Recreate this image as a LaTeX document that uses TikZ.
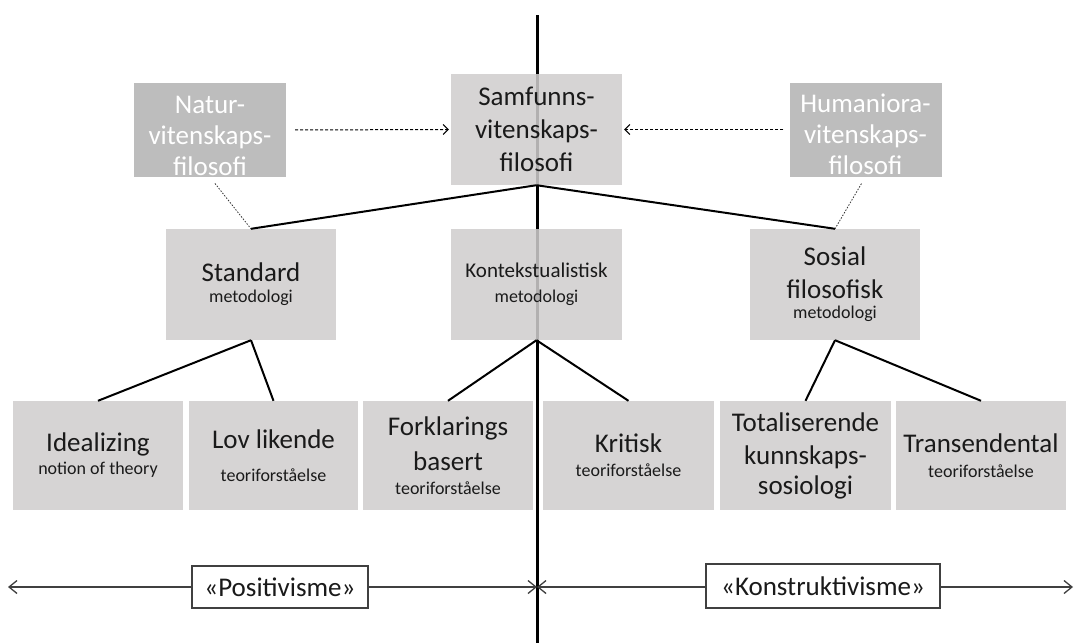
\documentclass[tikz,border=0pt]{standalone}
\usepackage{fontspec}
\setmainfont{Carlito}
\usetikzlibrary{arrows.meta,backgrounds}

\definecolor{boxgray}{HTML}{D0CECE}
\definecolor{softgray}{HTML}{BDBDBD}
\definecolor{ink}{HTML}{1A1A1A}
\definecolor{rim}{HTML}{404040}

% text sizes
\newcommand\szL{\fontsize{27}{33}\selectfont}
\newcommand\szK{\fontsize{21}{25}\selectfont}
\newcommand\szS{\fontsize{18}{21}\selectfont}
% extra head room on the first line of the soft boxes
\newcommand\headroom{\rule{0pt}{29pt}}

\tikzset{
  greybox/.style 2 args={fill=boxgray, fill opacity=0.86, text opacity=1,
    draw=none, text=ink, align=center, inner sep=0pt, font=\szL,
    minimum width=#1, minimum height=#2},
  softbox/.style={fill=softgray, draw=none, text=white, align=center,
    inner sep=0pt, font=\szL, minimum width=152, minimum height=94},
  labelbox/.style={fill=white, draw=rim, line width=1.2pt, text=ink,
    inner sep=0pt, minimum height=42, font=\szL},
  link/.style={draw=black, line width=2pt},
  hint/.style={draw=black!80, line width=0.8pt, dash pattern=on 1.5pt off 1.5pt},
  feed/.style={draw=black, line width=1pt, dash pattern=on 3pt off 2pt,
    -{Straight Barb[length=5pt,width=10pt]}},
  span/.style={draw=rim, line width=1.3pt,
    {Straight Barb[length=8pt,width=13pt]}-{Straight Barb[length=8pt,width=13pt]}},
}

\begin{document}
\begin{tikzpicture}[x=1pt,y=-1pt]
  \useasboundingbox (0,0) rectangle (1075,643);
  \fill[white] (0,0) rectangle (1075,643);

  % dividing axis
  \coordinate (vtop) at (537,15);
  \coordinate (vbot) at (537,643);
  \draw[line width=3pt] (vtop) -- (vbot);

  % top row
  \node[greybox={171}{111}] (samf) at (536.5,129.5) {Samfunns-\\vitenskaps-\\filosofi};
  \node[softbox] (natur) at (210,130) {\headroom Natur-\\[-2pt]vitenskaps-\\[-2pt]filosofi};
  \node[softbox] (huma) at (865.5,129.5) {\headroom Humaniora-\\[-2pt]vitenskaps-\\[-2pt]filosofi};
  \begin{scope}[on background layer]
    \foreach \d/\o in {1/0.45,2/0.3,3/0.18,4/0.1,5/0.05}{
      \fill[softgray, opacity=\o] ([shift={(-\d,-\d)}]natur.north west) rectangle ([shift={(\d,\d)}]natur.south east);
      \fill[softgray, opacity=\o] ([shift={(-\d,-\d)}]huma.north west) rectangle ([shift={(\d,\d)}]huma.south east);
    }
  \end{scope}

  % middle row
  \node[greybox={170}{111}] (std) at (251,284.5) {Standard\\[-12pt]{\szS metodologi}};
  \node[greybox={171}{111}, font=\szK] (kon) at (536.5,284.5) {Kontekstualistisk\\{\szS metodologi}};
  \node[greybox={170}{111}] (sos) at (835,284.5) {Sosial\\filosofisk\\[-13pt]{\szS metodologi}};

  % bottom row
  \node[greybox={170}{109}] (b1) at (98,455.5) {Idealizing\\[-10pt]{\szS notion of theory}};
  \node[greybox={169}{109}] (b2) at (273.5,455.5) {Lov likende\\{\szS teoriforståelse}};
  \node[greybox={170}{109}] (b3) at (448,455.5) {Forklarings\\[2pt]basert\\[-9pt]{\szS teoriforståelse}};
  \node[greybox={171}{109}] (b4) at (628.5,455.5) {Kritisk\\[-9pt]{\szS teoriforståelse}};
  \node[greybox={171}{109}] (b5) at (805.5,455.5) {Totaliserende\\kunnskaps-\\[-3pt]sosiologi};
  \node[greybox={170}{109}] (b6) at (981,455.5) {Transendental\\[-8pt]{\szS teoriforståelse}};

  % tree links
  \draw[link] (samf.south) -- (std.north);
  \draw[link] (samf.south) -- (sos.north);
  \draw[link] (std.south) -- (b1.north);
  \draw[link] (std.south) -- (b2.north);
  \draw[link] (kon.south) -- (b3.north);
  \draw[link] (kon.south) -- (b4.north);
  \draw[link] (sos.south) -- (b5.north);
  \draw[link] (sos.south) -- (b6.north);

  % influences from the neighbouring philosophies
  \draw[feed, shorten <=9pt, shorten >=2pt] (natur.east) -- (samf.west);
  \draw[feed, shorten <=6pt, shorten >=2pt] (huma.west) -- (samf.east);
  \draw[hint, shorten <=8pt] (natur.south) -- (std.north);
  \draw[hint, shorten <=8pt] (huma.south) -- (sos.north);

  % bottom spans
  \coordinate (mid) at (537,587);
  \coordinate (lend) at (8,587);
  \coordinate (rend) at (1073,587);
  \draw[span] (lend) -- (mid);
  \draw[span] (mid) -- (rend);
  \node[labelbox, minimum width=176] (pos) at (280,587) {«Positivisme»};
  \node[labelbox, minimum width=234, minimum height=44] (kons) at (823,586) {«Konstruktivisme»};
\end{tikzpicture}
\end{document}
